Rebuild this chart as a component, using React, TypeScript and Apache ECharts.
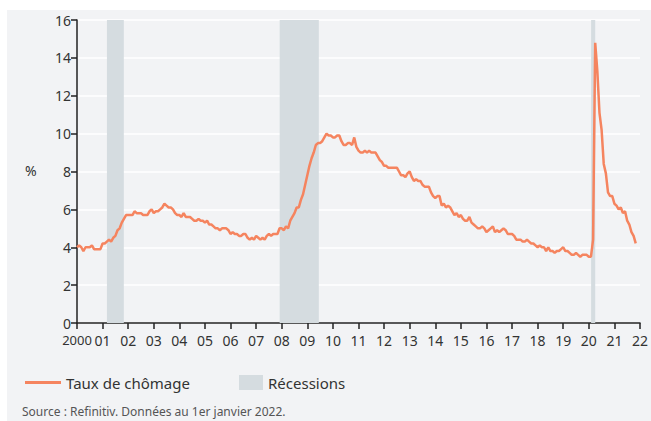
import React, { useEffect, useRef } from "react";
import * as echarts from "echarts";

const startYear = 2000;
const unemployment: number[] = [
  // 2000
  4.0, 4.1, 4.0, 3.8, 4.0, 4.0, 4.0, 4.1, 3.9, 3.9, 3.9, 3.9,
  // 2001
  4.2, 4.2, 4.3, 4.4, 4.3, 4.5, 4.6, 4.9, 5.0, 5.3, 5.5, 5.7,
  // 2002
  5.7, 5.7, 5.7, 5.9, 5.8, 5.8, 5.8, 5.7, 5.7, 5.7, 5.9, 6.0,
  // 2003
  5.8, 5.9, 5.9, 6.0, 6.1, 6.3, 6.2, 6.1, 6.1, 6.0, 5.8, 5.7,
  // 2004
  5.7, 5.6, 5.8, 5.6, 5.6, 5.6, 5.5, 5.4, 5.4, 5.5, 5.4, 5.4,
  // 2005
  5.3, 5.4, 5.2, 5.2, 5.1, 5.0, 5.0, 4.9, 5.0, 5.0, 5.0, 4.9,
  // 2006
  4.7, 4.8, 4.7, 4.7, 4.6, 4.6, 4.7, 4.7, 4.5, 4.4, 4.5, 4.4,
  // 2007
  4.6, 4.5, 4.4, 4.5, 4.4, 4.6, 4.7, 4.6, 4.7, 4.7, 4.7, 5.0,
  // 2008
  5.0, 4.9, 5.1, 5.0, 5.4, 5.6, 5.8, 6.1, 6.1, 6.5, 6.8, 7.3,
  // 2009
  7.8, 8.3, 8.7, 9.0, 9.4, 9.5, 9.5, 9.6, 9.8, 10.0, 9.9, 9.9,
  // 2010
  9.8, 9.8, 9.9, 9.9, 9.6, 9.4, 9.4, 9.5, 9.5, 9.4, 9.8, 9.3,
  // 2011
  9.1, 9.0, 9.0, 9.1, 9.0, 9.1, 9.0, 9.0, 9.0, 8.8, 8.6, 8.5,
  // 2012
  8.3, 8.3, 8.2, 8.2, 8.2, 8.2, 8.2, 8.0, 7.8, 7.8, 7.7, 7.9,
  // 2013
  8.0, 7.7, 7.5, 7.6, 7.5, 7.5, 7.3, 7.2, 7.2, 7.2, 6.9, 6.7,
  // 2014
  6.6, 6.7, 6.7, 6.2, 6.3, 6.1, 6.2, 6.1, 5.9, 5.7, 5.8, 5.6,
  // 2015
  5.7, 5.5, 5.4, 5.4, 5.6, 5.3, 5.2, 5.1, 5.0, 5.0, 5.1, 5.0,
  // 2016
  4.8, 4.9, 5.0, 5.1, 4.8, 4.9, 4.8, 4.9, 5.0, 4.9, 4.7, 4.7,
  // 2017
  4.7, 4.6, 4.4, 4.4, 4.4, 4.3, 4.3, 4.4, 4.3, 4.2, 4.2, 4.1,
  // 2018
  4.0, 4.1, 4.0, 4.0, 3.8, 4.0, 3.8, 3.8, 3.7, 3.8, 3.8, 3.9,
  // 2019
  4.0, 3.8, 3.8, 3.7, 3.6, 3.6, 3.7, 3.6, 3.5, 3.6, 3.6, 3.6,
  // 2020
  3.5, 3.5, 4.4, 14.8, 13.3, 11.1, 10.2, 8.4, 7.9, 6.9, 6.7, 6.7,
  // 2021
  6.3, 6.2, 6.0, 6.1, 5.8, 5.9, 5.4, 5.2, 4.8, 4.6, 4.2,
];

// recession periods as [start, end] in decimal years
const recessions: [number, number][] = [
  [2001.17, 2001.83],
  [2007.92, 2009.45],
  [2020.09, 2020.25],
];

const yTicks = [0, 2, 4, 6, 8, 10, 12, 14, 16];

const FONT = "'Noto Sans', sans-serif";
const TEXT = "#333";

export default function App() {
  const ref = useRef<HTMLDivElement>(null);
  useEffect(() => {
    if (!ref.current) return;
    const chart = echarts.init(ref.current, undefined, { renderer: "svg" });
    const lineData = unemployment.map((v, i) => [startYear + i / 12, v]);
    chart.setOption({
      animation: false,
      backgroundColor: "transparent",
      textStyle: { fontFamily: FONT },
      graphic: [
        {
          type: "rect",
          shape: { x: 7, y: 10, width: 644, height: 420 },
          style: { fill: "#f2f3f5" },
          z: -10,
          silent: true,
        },
        {
          type: "text",
          left: 25,
          top: 163,
          style: { text: "%", fontSize: 14, fontFamily: FONT, fill: TEXT },
        },
        {
          type: "text",
          left: 22,
          top: 405,
          style: {
            text: "Source : Refinitiv. Données au 1er janvier 2022.",
            fontSize: 12,
            fontFamily: FONT,
            fill: "#555",
          },
        },
      ],
      grid: { left: 77, right: 7, top: 20, bottom: 98, containLabel: false },
      legend: [
        {
          data: ["Taux de chômage"],
          left: 20,
          top: 370,
          icon: "rect",
          itemWidth: 36,
          itemHeight: 3,
          itemGap: 6,
          textStyle: { fontSize: 15, color: TEXT, fontFamily: FONT },
          selectedMode: false,
        },
        {
          data: ["Récessions"],
          left: 234,
          top: 370,
          icon: "rect",
          itemWidth: 24,
          itemHeight: 15,
          itemGap: 6,
          textStyle: { fontSize: 15, color: TEXT, fontFamily: FONT },
          selectedMode: false,
        },
      ],
      xAxis: {
        type: "value",
        min: 2000,
        max: 2022,
        interval: 1,
        axisLine: { show: true, lineStyle: { color: "#222", width: 1.5 } },
        axisTick: { show: true, length: 6, lineStyle: { color: "#222", width: 1.5 } },
        axisLabel: {
          fontSize: 14,
          color: TEXT,
          margin: 10,
          lineHeight: 14,
          showMinLabel: true,
          showMaxLabel: true,
          hideOverlap: false,
          fontFamily: FONT,
          formatter: (v: number) =>
            v === 2000 ? "{first|2000}" : String(Math.round(v) % 100).padStart(2, "0"),
          rich: {
            first: { fontSize: 13, lineHeight: 14, color: TEXT, fontFamily: FONT },
          },
        },
        splitLine: { show: false },
      },
      yAxis: {
        type: "value",
        min: yTicks[0],
        max: yTicks[yTicks.length - 1],
        interval: 2,
        axisLine: { show: true, lineStyle: { color: "#222", width: 1.5 } },
        axisTick: { show: true, length: 6, lineStyle: { color: "#222", width: 1.5 } },
        axisLabel: {
          fontSize: 14,
          lineHeight: 12,
          color: TEXT,
          margin: 6,
          showMinLabel: true,
          showMaxLabel: true,
          fontFamily: FONT,
        },
        splitLine: { show: true, lineStyle: { color: "#ffffff", width: 1.5 } },
      },
      series: [
        {
          name: "Récessions",
          type: "line",
          data: [],
          color: "#d5dce0",
          itemStyle: { color: "#d5dce0" },
          lineStyle: { color: "#d5dce0" },
          markArea: {
            silent: true,
            itemStyle: { color: "#d5dce0", opacity: 1 },
            data: recessions.map(([a, b]) => [{ xAxis: a }, { xAxis: b }]),
          },
          z: 1,
        },
        {
          name: "Taux de chômage",
          type: "line",
          data: lineData,
          showSymbol: false,
          symbol: "none",
          color: "#f5845f",
          lineStyle: { color: "#f5845f", width: 2.5 },
          z: 3,
        },
      ],
    });
    return () => chart.dispose();
  }, []);
  return <div ref={ref} style={{ width: 651, height: 421, position: "absolute", left: 0, top: 0 }} />;
}
